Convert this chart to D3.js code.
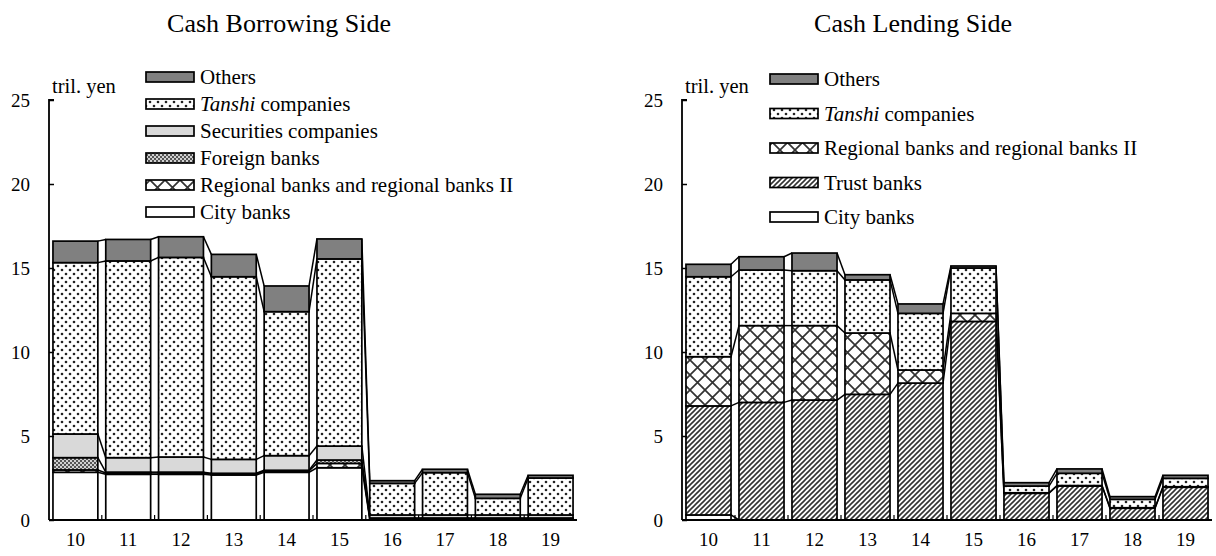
<!DOCTYPE html>
<html><head><meta charset="utf-8">
<script src="https://cdn.jsdelivr.net/npm/d3@7"></script>
<style>
html,body{margin:0;padding:0;background:#fff;}
svg{display:block;}
text{font-family:"Liberation Serif","Times New Roman",serif;fill:#000;}
</style></head>
<body>
<svg id="chart" width="1216" height="556"></svg>
<script>
// ---------- DATA ----------
const categories = ["10","11","12","13","14","15","16","17","18","19"];
const yTicks = [0,5,10,15,20,25];

// Cash Borrowing Side (segment values, tril. yen)
const borrowCity       = [2.84, 2.72, 2.72, 2.68, 2.84, 3.11, 0.05, 0.05, 0.05, 0.05];
const borrowRegional   = [0.14, 0.08, 0.08, 0.06, 0.08, 0.26, 0.05, 0.05, 0.05, 0.05];
const borrowForeign    = [0.73, 0.05, 0.05, 0.04, 0.04, 0.20, 0.02, 0.02, 0.02, 0.02];
const borrowSecurities = [1.41, 0.86, 0.90, 0.83, 0.87, 0.83, 0.18, 0.18, 0.18, 0.18];
const borrowTanshi     = [10.20, 11.71, 11.88, 10.87, 8.57, 11.14, 1.88, 2.52, 0.99, 2.20];
const borrowOthers     = [1.28, 1.28, 1.23, 1.33, 1.53, 1.19, 0.16, 0.20, 0.24, 0.16];

// Cash Lending Side
const lendCity     = [0.30, 0, 0, 0, 0, 0, 0, 0, 0, 0];
const lendTrust    = [6.49, 7.00, 7.14, 7.48, 8.15, 11.82, 1.59, 2.02, 0.70, 1.95];
const lendRegional = [2.93, 4.57, 4.43, 3.65, 0.78, 0.48, 0.03, 0.03, 0.03, 0.03];
const lendTanshi   = [4.76, 3.31, 3.27, 3.16, 3.37, 2.70, 0.40, 0.73, 0.50, 0.50];
const lendOthers   = [0.74, 0.79, 1.05, 0.31, 0.56, 0.12, 0.20, 0.26, 0.16, 0.18];

// ---------- PATTERNS ----------
const svg = d3.select("#chart");
const defs = svg.append("defs");
{
  const p = defs.append("pattern").attr("id","pDots").attr("patternUnits","userSpaceOnUse")
    .attr("width",8).attr("height",8);
  p.append("rect").attr("width",8).attr("height",8).attr("fill","#fff");
  p.append("circle").attr("cx",2).attr("cy",2).attr("r",1.3).attr("fill","#222");
  p.append("circle").attr("cx",6).attr("cy",6).attr("r",1.3).attr("fill","#222");
}
{
  const p = defs.append("pattern").attr("id","pChecker").attr("patternUnits","userSpaceOnUse")
    .attr("width",4).attr("height",4);
  p.append("rect").attr("width",4).attr("height",4).attr("fill","#d0d0d0");
  p.append("rect").attr("width",2).attr("height",2).attr("fill","#555");
  p.append("rect").attr("x",2).attr("y",2).attr("width",2).attr("height",2).attr("fill","#555");
}
{
  const s = 15;
  const p = defs.append("pattern").attr("id","pCross").attr("patternUnits","userSpaceOnUse")
    .attr("width",s).attr("height",s);
  p.append("rect").attr("width",s).attr("height",s).attr("fill","#fff");
  p.append("path").attr("d",`M0,0L${s},${s}M${s},0L0,${s}`).attr("stroke","#333").attr("stroke-width",1.7);
}
{
  const s = 5;
  const p = defs.append("pattern").attr("id","pStripe").attr("patternUnits","userSpaceOnUse")
    .attr("width",s).attr("height",s);
  p.append("rect").attr("width",s).attr("height",s).attr("fill","#fff");
  p.append("path").attr("d",`M0,${s}L${s},0M${-s/2},${s/2}L${s/2},${-s/2}M${s/2},${s*1.5}L${s*1.5},${s/2}`)
    .attr("stroke","#333").attr("stroke-width",1.6);
}

const fills = {
  others: "#808080",
  tanshi: "url(#pDots)",
  securities: "#d9d9d9",
  foreign: "url(#pChecker)",
  regional: "url(#pCross)",
  trust: "url(#pStripe)",
  city: "#fff"
};

function drawPanel(opts){
  const {x0, x1, title, titleX, series, legend, legendX, legendY, legendStep} = opts;
  const yTop = 100, yBottom = 520;
  const g = svg.append("g");
  const x = d3.scaleBand().domain(categories).range([x0, x1]).paddingInner(0.15).paddingOuter(0.075);
  const y = d3.scaleLinear().domain([0,25]).range([yBottom, yTop]);

  g.append("text").attr("x",titleX).attr("y",32).attr("text-anchor","middle")
    .style("font-size","26px").text(title);

  const keys = series.map(s=>s.key);
  const rows = categories.map((c,i)=>{ const r={cat:c}; series.forEach(s=>r[s.key]=s.values[i]); return r; });
  const stacked = d3.stack().keys(keys)(rows);

  stacked.forEach(layer=>{
    for(let i=0;i<categories.length-1;i++){
      g.append("line")
        .attr("x1", x(categories[i])+x.bandwidth()).attr("y1", y(layer[i][1]))
        .attr("x2", x(categories[i+1])).attr("y2", y(layer[i+1][1]))
        .attr("stroke","#000").attr("stroke-width",1.5);
    }
  });

  stacked.forEach(layer=>{
    g.append("g").selectAll("rect").data(layer).join("rect")
      .attr("x", d=>x(d.data.cat))
      .attr("y", d=>y(d[1]))
      .attr("width", x.bandwidth())
      .attr("height", d=>Math.max(0, y(d[0])-y(d[1])))
      .attr("fill", fills[layer.key])
      .attr("stroke","#000").attr("stroke-width",1.7);
  });

  const yAxis = d3.axisRight(y).tickValues(yTicks).tickSize(5).tickFormat("");
  const ya = g.append("g").attr("transform",`translate(${x0},0)`).call(yAxis);
  ya.select(".domain").attr("stroke","#000").attr("stroke-width",1.8).attr("d",`M${5},${yTop}H0V${yBottom}`);
  ya.selectAll(".tick line").attr("stroke","#000").attr("stroke-width",1.5);
  g.append("g").selectAll("text").data(yTicks).join("text")
    .attr("x", x0-19).attr("y", d=>y(d)).attr("dy","0.35em").attr("text-anchor","end")
    .style("font-size","19px").text(d=>d);

  g.append("line").attr("x1",x0).attr("x2",x1).attr("y1",yBottom).attr("y2",yBottom)
    .attr("stroke","#000").attr("stroke-width",1.8);
  const step = x.step();
  for(let i=1;i<categories.length;i++){
    const bx = x(categories[i]) - step*0.075;
    g.append("line").attr("x1",bx).attr("x2",bx).attr("y1",yBottom).attr("y2",yBottom-5)
      .attr("stroke","#000").attr("stroke-width",1.2);
  }
  g.append("g").selectAll("text").data(categories).join("text")
    .attr("x", d=>x(d)+x.bandwidth()/2).attr("y", yBottom+26).attr("text-anchor","middle")
    .style("font-size","19px").text(d=>d);

  g.append("text").attr("x", x0+3).attr("y", 93).style("font-size","20.5px").text("tril. yen");

  legend.forEach((L,i)=>{
    const ly = legendY + i*legendStep;
    g.append("rect").attr("x",legendX).attr("y",ly-5).attr("width",48).attr("height",10)
      .attr("fill",fills[L.key]).attr("stroke","#000").attr("stroke-width",1.7);
    const t = g.append("text").attr("x",legendX+54).attr("y",ly).attr("dy","0.35em").style("font-size","21px");
    if(L.italic){
      t.append("tspan").style("font-style","italic").text(L.italic);
      t.append("tspan").text(L.rest);
    } else t.text(L.label);
  });
}

drawPanel({
  x0:49, x1:577, title:"Cash Borrowing Side", titleX:279,
  series:[
    {key:"city", values:borrowCity},
    {key:"regional", values:borrowRegional},
    {key:"foreign", values:borrowForeign},
    {key:"securities", values:borrowSecurities},
    {key:"tanshi", values:borrowTanshi},
    {key:"others", values:borrowOthers}
  ],
  legend:[
    {key:"others", label:"Others"},
    {key:"tanshi", italic:"Tanshi", rest:" companies"},
    {key:"securities", label:"Securities companies"},
    {key:"foreign", label:"Foreign banks"},
    {key:"regional", label:"Regional banks and regional banks II"},
    {key:"city", label:"City banks"}
  ],
  legendX:146, legendY:77, legendStep:27
});

drawPanel({
  x0:682, x1:1212, title:"Cash Lending Side", titleX:913,
  series:[
    {key:"city", values:lendCity},
    {key:"trust", values:lendTrust},
    {key:"regional", values:lendRegional},
    {key:"tanshi", values:lendTanshi},
    {key:"others", values:lendOthers}
  ],
  legend:[
    {key:"others", label:"Others"},
    {key:"tanshi", italic:"Tanshi", rest:" companies"},
    {key:"regional", label:"Regional banks and regional banks II"},
    {key:"trust", label:"Trust banks"},
    {key:"city", label:"City banks"}
  ],
  legendX:770, legendY:79, legendStep:34.5
});
</script>
</body></html>
